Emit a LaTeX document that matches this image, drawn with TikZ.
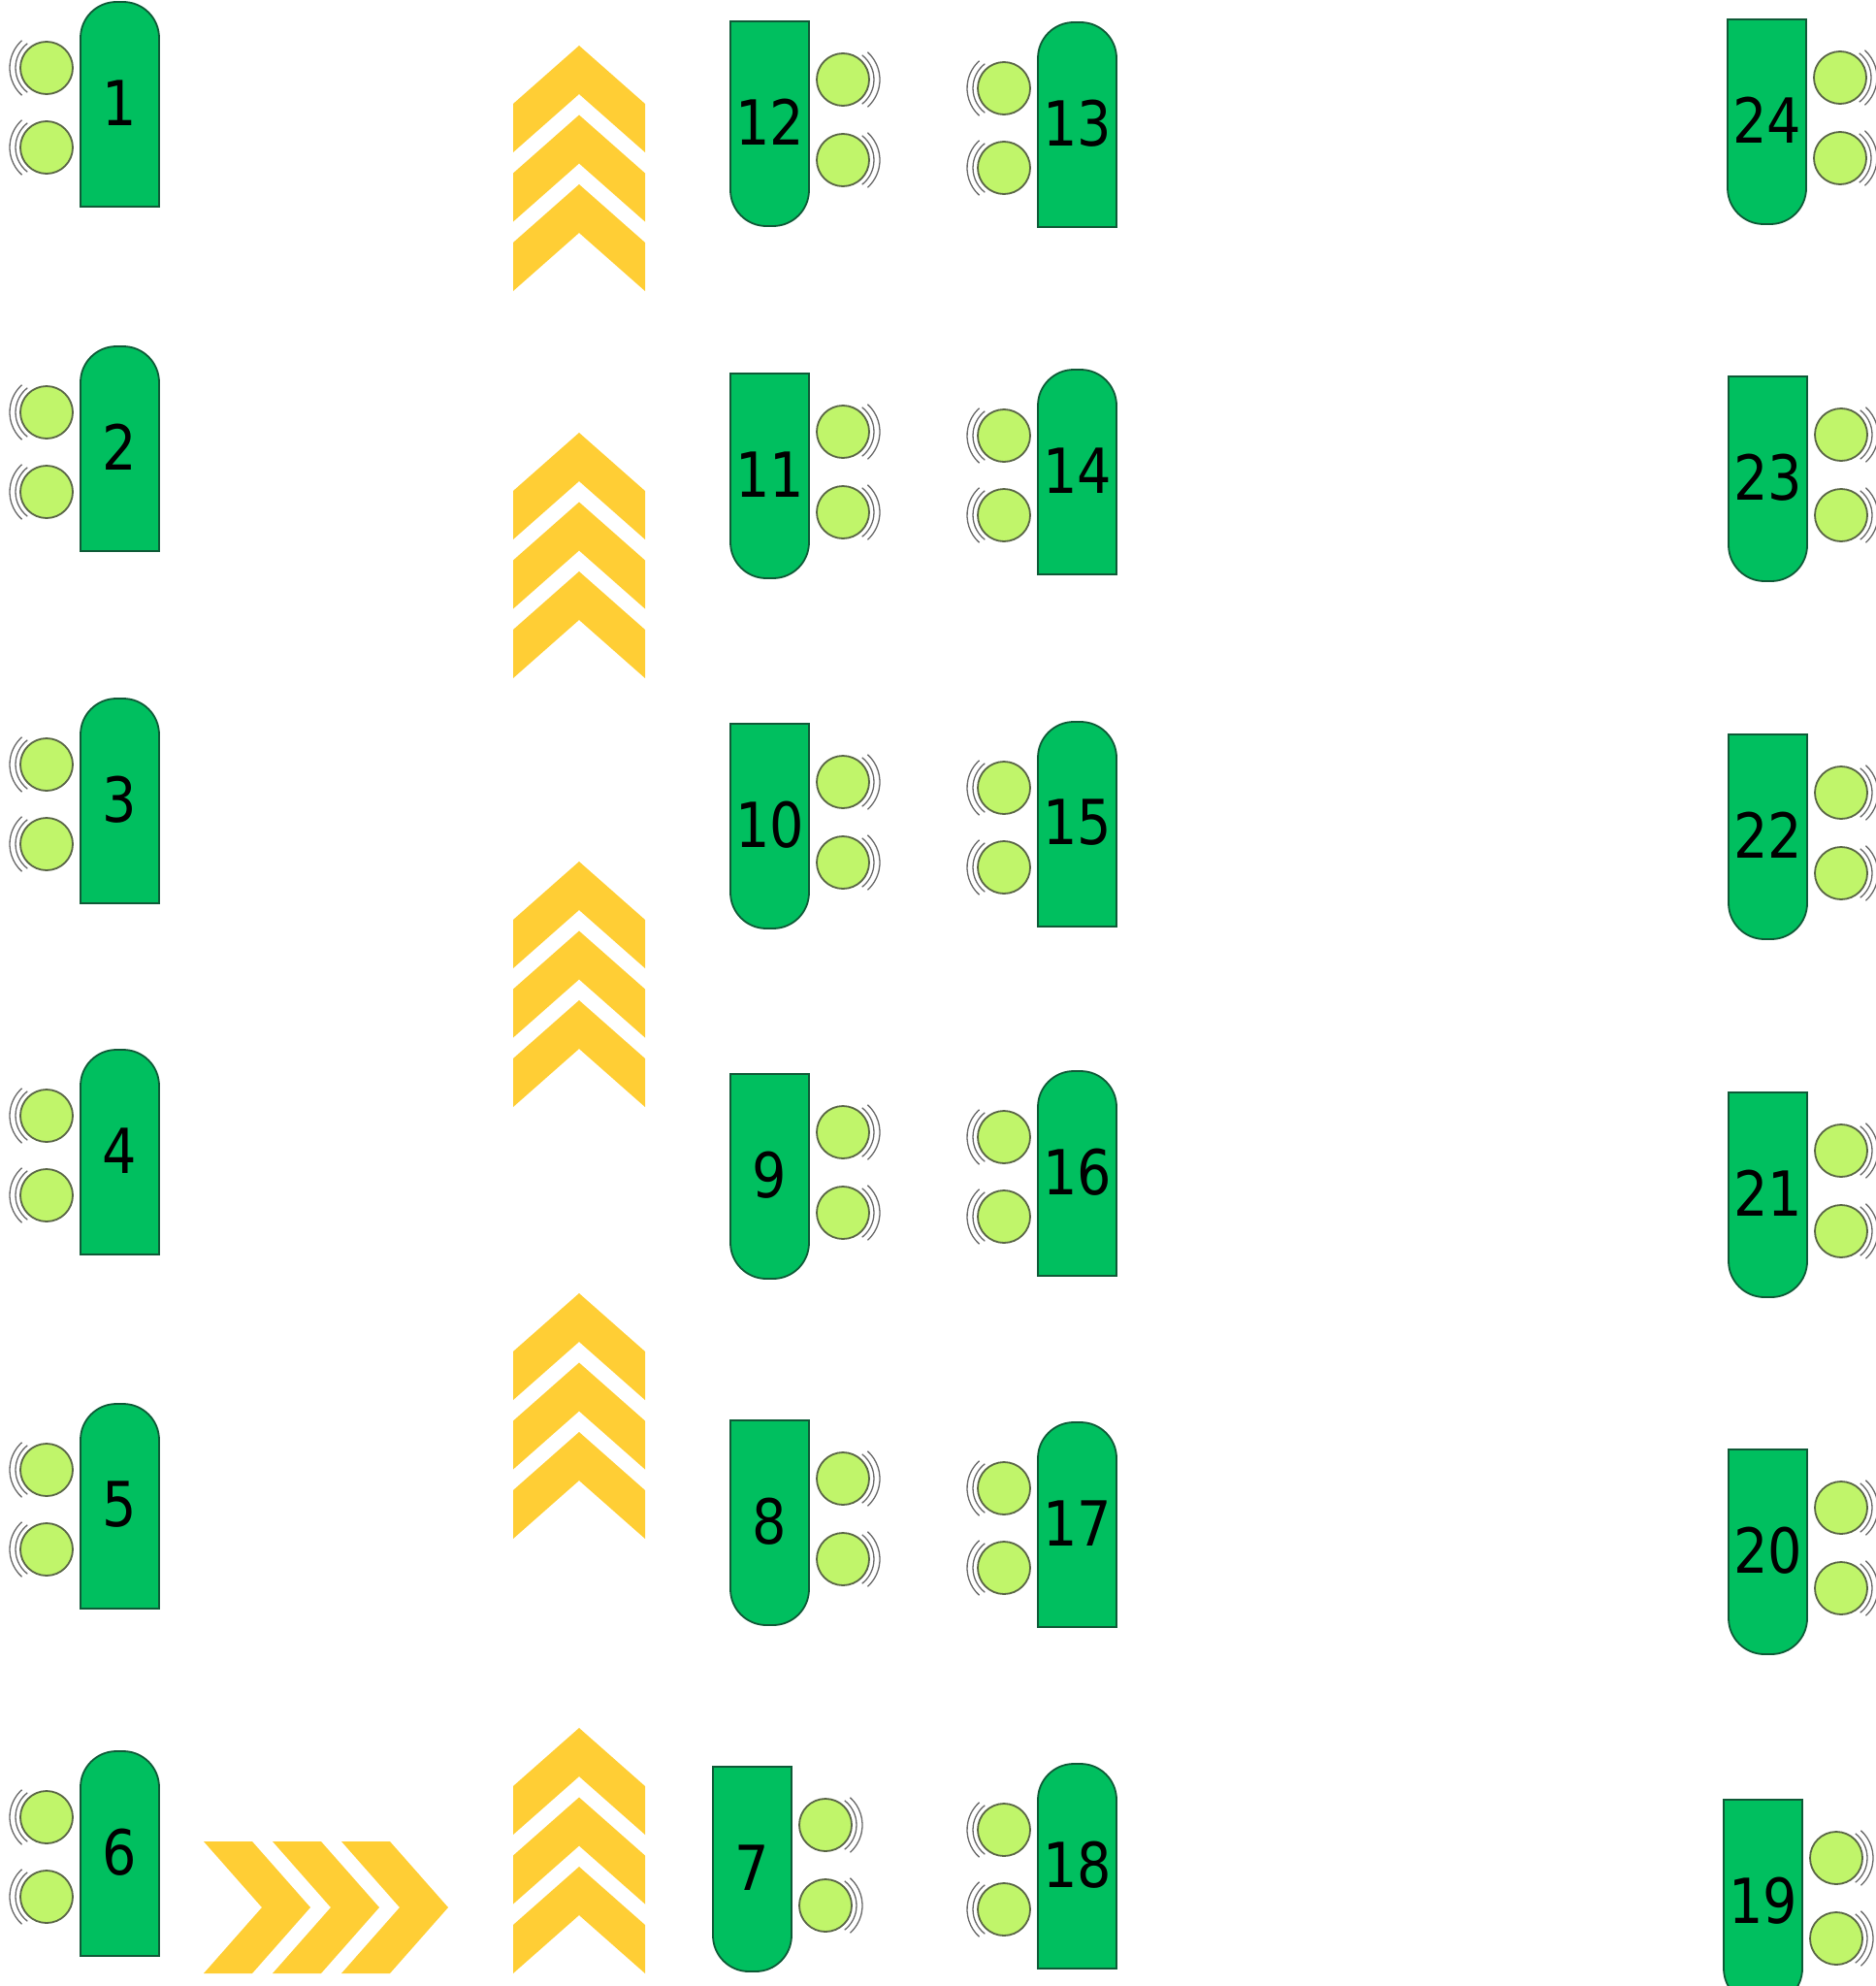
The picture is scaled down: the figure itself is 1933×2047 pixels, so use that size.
\documentclass[tikz,border=0pt]{standalone}
\usepackage{fontspec}
\usepackage{tikz}
\newfontfamily\sigfont[FakeStretch=0.87]{DejaVu Sans}
\definecolor{sigfill}{RGB}{0,191,95}
\definecolor{sigline}{RGB}{15,90,55}
\definecolor{lampfill}{RGB}{192,245,106}
\definecolor{lampline}{RGB}{90,102,70}
\definecolor{ringgray}{RGB}{105,105,105}
\definecolor{chevyellow}{RGB}{255,206,53}

\begin{document}
\begin{tikzpicture}[x=1pt,y=-1pt,
  body/.style={fill=sigfill,draw=sigline,line width=1.8pt},
  lamp/.style={circle,fill=lampfill,draw=lampline,line width=1.8pt,minimum size=54pt,inner sep=0pt},
  ring/.style={draw=ringgray,line width=1.3pt},
  chev/.style={fill=chevyellow},
  num/.style={font=\sigfont\fontsize{64}{64}\selectfont,inner sep=0pt}]
\useasboundingbox (0,0) rectangle (1933,2047);
\foreach \t in {47,446,888,1333,1781}
  \foreach \k in {0,1,2}
    \fill[chev] (597,\t+71.5*\k) -- ++(68,60) -- ++(0,50) -- ++(-68,-60) -- ++(-68,60) -- ++(0,-50) -- cycle;
\foreach \k in {0,1,2}
  \fill[chev] (210+71*\k,1898) -- ++(50,0) -- ++(60,68) -- ++(-60,68) -- ++(-50,0) -- ++(60,-68) -- cycle;
\foreach \n/\x/\y in {1/83/2,2/83/357,3/83/720,4/83/1082,5/83/1447,6/83/1805,
  13/1070/23,14/1070/381,15/1070/744,16/1070/1104,17/1070/1466,18/1070/1818}{
  \draw[body] (\x,\y+211) -- (\x,\y+37) arc(180:270:37) -- (\x+44,\y) arc(270:360:37) -- (\x+81,\y+211) -- cycle;
  \node[num] (t\n) at (\x+40.5,\y+104) {\n};
  \node[lamp] (a\n) at (\x-35,\y+68) {};
  \node[lamp] (b\n) at (\x-35,\y+150) {};
  \foreach \l in {a,b}{
    \draw[ring] (\l\n.center) ++(128:32) arc(128:232:32);
    \draw[ring] (\l\n.center) ++(132:38) arc(132:228:38);
  }
}
\foreach \n/\x/\y in {7/735/1821,8/753/1464,9/753/1107,10/753/746,11/753/385,12/753/22,
  19/1777/1855,20/1782/1494,21/1782/1126,22/1782/757,23/1782/388,24/1781/20}{
  \draw[body] (\x,\y) -- (\x+81,\y) -- (\x+81,\y+174) arc(0:90:37) -- (\x+37,\y+211) arc(90:180:37) -- cycle;
  \node[num] (t\n) at (\x+40.5,\y+104) {\n};
  \node[lamp] (a\n) at (\x+116,\y+60) {};
  \node[lamp] (b\n) at (\x+116,\y+143) {};
  \foreach \l in {a,b}{
    \draw[ring] (\l\n.center) ++(-52:32) arc(-52:52:32);
    \draw[ring] (\l\n.center) ++(-48:38) arc(-48:48:38);
  }
}
\end{tikzpicture}
\end{document}
